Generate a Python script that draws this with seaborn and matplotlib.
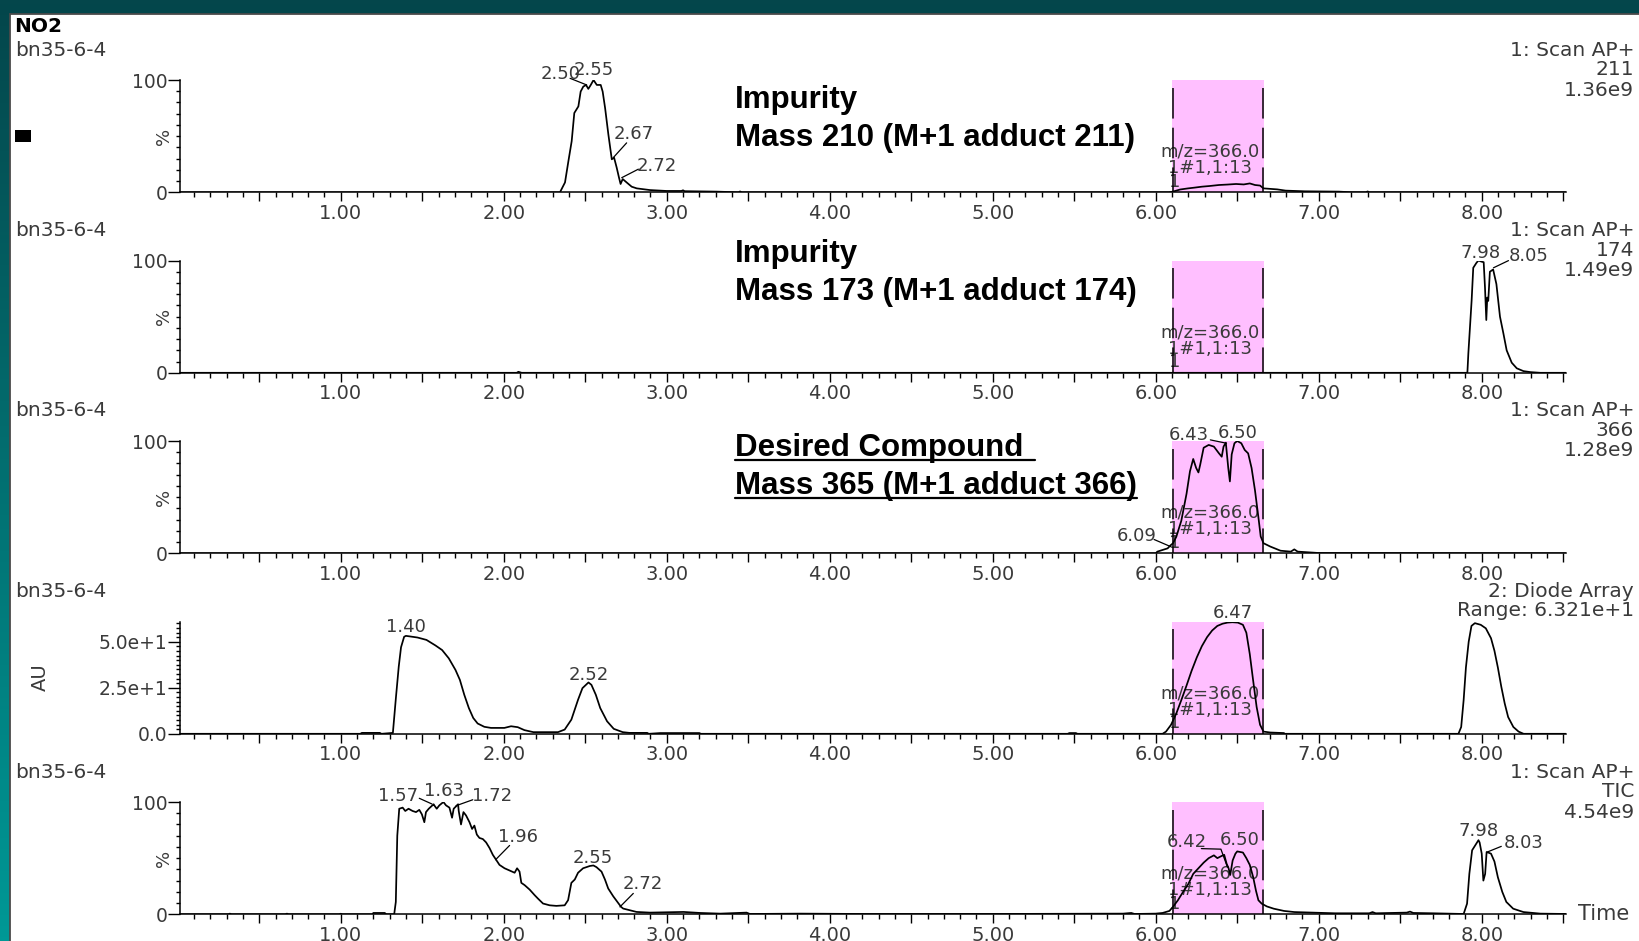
import matplotlib
matplotlib.use("Agg")
import numpy as np
import pandas as pd
import matplotlib.pyplot as plt
import seaborn as sns
from matplotlib.patches import Rectangle
from matplotlib.lines import Line2D
from matplotlib.ticker import MultipleLocator, FixedLocator, FuncFormatter
from matplotlib.transforms import blended_transform_factory

# ---------------------------------------------------------------- data
report_title = "NO2"
sample_id = "bn35-6-4"

channel_function = ["1: Scan AP+", "1: Scan AP+", "1: Scan AP+", "2: Diode Array", "1: Scan AP+"]
channel_trace = ["211", "174", "366", "Range: 6.321e+1", "TIC"]
channel_scale = ["1.36e9", "1.49e9", "1.28e9", "", "4.54e9"]

compound_notes = [
    ("Impurity", "Mass 210 (M+1 adduct 211)"),
    ("Impurity", "Mass 173 (M+1 adduct 174)"),
    ("Desired Compound", "Mass 365 (M+1 adduct 366)"),
]

window_label = ["m/z=366.0", "1#1,1:13", "1"]
window_start, window_end = 6.10, 6.665
window_marks = [6.105, 6.66]

# m/z 211 ion trace, % of 1.36e9
m211_time = [0.01, 2.345, 2.376, 2.397, 2.417, 2.433, 2.458, 2.472, 2.488, 2.505,
             2.519, 2.534, 2.551, 2.571, 2.595, 2.607, 2.622, 2.642, 2.663, 2.677,
             2.693, 2.707, 2.717, 2.730, 2.754, 2.785, 2.816, 2.897, 2.999, 3.09,
             3.10, 3.11, 3.307, 3.44, 3.45, 3.46, 6.08, 6.105, 6.15, 6.199,
             6.24, 6.283, 6.33, 6.388, 6.44, 6.493, 6.54, 6.577, 6.609, 6.64,
             6.661, 6.745, 6.797, 6.913, 7.123, 7.207, 7.29, 7.30, 7.31, 8.52]
m211_pct = [0, 0, 8.8, 27.9, 45.6, 70.6, 76.5, 89.7, 94.1, 95.6,
            92.1, 95.6, 100, 95.6, 95.6, 89.7, 75.0, 51.5, 29.4, 30.9,
            22.0, 13.2, 7.4, 11.8, 8.8, 5.0, 3.5, 2.0, 1.2, 1.2,
            1.8, 1.0, 0.6, 0.0, 0.8, 0.0, 0.0, 0.6, 2.5, 3.5,
            4.2, 5.0, 5.6, 6.5, 6.9, 7.4, 7.0, 7.9, 6.5, 6.0,
            3.5, 2.6, 1.5, 0.9, 0.6, 0.0, 0.0, 0.8, 0.0, 0.0]

# m/z 174 ion trace, % of 1.49e9
m174_time = [0.01, 2.08, 2.09, 2.11, 7.905, 7.912, 7.918, 7.928, 7.938, 7.948,
             7.968, 7.98, 7.998, 8.012, 8.020, 8.028, 8.034, 8.040, 8.050, 8.070,
             8.090, 8.112, 8.133, 8.153, 8.184, 8.215, 8.256, 8.30, 8.36, 8.52]
m174_pct = [0, 0, 0.9, 0, 0, 0, 17.5, 40.9, 64.3, 93.5,
            98.0, 100, 99.0, 98.5, 76.0, 47.0, 67.0, 64.0, 90.0, 92.0,
            79.0, 50.0, 35.0, 20.0, 9.0, 4.0, 1.5, 0.6, 0, 0]

# m/z 366 ion trace, % of 1.28e9
m366_time = [0.01, 6.00, 6.01, 6.073, 6.09, 6.105, 6.126, 6.157, 6.189, 6.21,
             6.23, 6.248, 6.262, 6.273, 6.294, 6.325, 6.357, 6.388, 6.405, 6.416,
             6.43, 6.445, 6.455, 6.466, 6.483, 6.50, 6.525, 6.546, 6.567, 6.588,
             6.609, 6.63, 6.644, 6.661, 6.703, 6.766, 6.829, 6.85, 6.871, 6.997,
             8.52]
m366_pct = [0, 0, 1.5, 4.4, 7.0, 8.8, 14.6, 29.0, 53.0, 73.0,
            84.0, 76.0, 72.0, 79.0, 94.0, 96.5, 95.0, 89.0, 86.0, 95.0,
            98.5, 76.0, 64.0, 88.0, 98.0, 100, 98.0, 92.0, 89.0, 76.0,
            56.0, 32.0, 15.0, 9.0, 6.0, 2.3, 1.5, 3.5, 1.5, 0.3,
            0]

# diode array trace, AU
dad_time = [0.01, 1.12, 1.13, 1.24, 1.25, 1.32, 1.339, 1.356, 1.37, 1.389,
            1.40, 1.416, 1.471, 1.526, 1.581, 1.622, 1.663, 1.704, 1.731, 1.758,
            1.786, 1.813, 1.84, 1.881, 1.922, 2.004, 2.045, 2.086, 2.127, 2.182,
            2.333, 2.374, 2.415, 2.456, 2.483, 2.52, 2.538, 2.565, 2.592, 2.634,
            2.675, 2.73, 2.771, 2.88, 2.89, 2.96, 3.20, 3.21, 5.46, 5.47,
            5.51, 5.52, 6.042, 6.063, 6.094, 6.126, 6.157, 6.189, 6.22, 6.252,
            6.283, 6.315, 6.346, 6.378, 6.41, 6.44, 6.47, 6.504, 6.535, 6.556,
            6.577, 6.598, 6.619, 6.64, 6.661, 6.703, 6.787, 6.79, 7.857, 7.874,
            7.889, 7.903, 7.92, 7.937, 7.958, 7.994, 8.025, 8.057, 8.078, 8.099,
            8.12, 8.141, 8.162, 8.194, 8.226, 8.257, 8.52]
dad_au = [0, 0, 0.5, 0.5, 0, 0.5, 20.0, 36.5, 47.0, 52.7,
          53.2, 53.0, 52.3, 51.0, 48.0, 45.5, 41.0, 34.7, 29.3, 21.2,
          14.0, 8.6, 5.6, 3.8, 3.2, 3.2, 4.1, 3.6, 2.0, 0.9,
          0.9, 2.3, 7.7, 18.5, 24.8, 27.9, 26.6, 21.2, 14.0, 6.8,
          2.7, 0.9, 0.5, 0.5, 0, 0.4, 0.4, 0, 0, 0.4,
          0.4, 0, 0, 1.2, 4.9, 11.0, 18.3, 26.2, 34.2, 41.5,
          47.6, 52.5, 56.1, 58.6, 59.8, 60.4, 60.6, 60.4, 59.2, 54.9,
          43.3, 28.7, 14.6, 4.9, 1.2, 0.7, 0.4, 0, 0, 3.7,
          18.3, 36.0, 50.0, 58.6, 60.1, 59.2, 57.3, 51.9, 45.1, 36.0,
          25.6, 16.5, 9.1, 3.7, 1.2, 0, 0]
dad_full_scale = 61.0

# total ion current, % of 4.54e9
tic_time = [0.01, 0.31, 0.32, 0.33, 0.66, 0.67, 0.68, 0.99, 1.00, 1.01,
            1.195, 1.20, 1.27, 1.28, 1.328, 1.338, 1.347, 1.359, 1.38, 1.396,
            1.416, 1.441, 1.462, 1.482, 1.498, 1.513, 1.523, 1.54, 1.57, 1.574,
            1.589, 1.605, 1.63, 1.646, 1.667, 1.683, 1.693, 1.72, 1.724, 1.738,
            1.753, 1.769, 1.79, 1.806, 1.82, 1.835, 1.851, 1.872, 1.892, 1.913,
            1.933, 1.96, 1.974, 2.005, 2.036, 2.067, 2.082, 2.097, 2.108, 2.128,
            2.159, 2.19, 2.21, 2.241, 2.282, 2.323, 2.374, 2.395, 2.415, 2.436,
            2.456, 2.487, 2.528, 2.55, 2.569, 2.60, 2.621, 2.641, 2.672, 2.72,
            2.733, 2.774, 2.815, 2.897, 3.103, 3.205, 3.328, 3.49, 3.51, 3.82,
            4.20, 5.00, 5.65, 5.80, 5.85, 5.87, 6.00, 6.042, 6.084, 6.105,
            6.136, 6.168, 6.20, 6.23, 6.262, 6.294, 6.325, 6.357, 6.378, 6.405,
            6.42, 6.435, 6.447, 6.457, 6.472, 6.489, 6.50, 6.535, 6.556, 6.577,
            6.598, 6.615, 6.63, 6.65, 6.682, 6.724, 6.787, 6.85, 6.955, 7.10,
            7.31, 7.33, 7.35, 7.54, 7.56, 7.58, 7.70, 7.889, 7.91, 7.924,
            7.941, 7.958, 7.98, 7.987, 8.00, 8.01, 8.021, 8.03, 8.057, 8.078,
            8.099, 8.126, 8.151, 8.193, 8.256, 8.36, 8.52]
tic_pct = [0, 0, 0.6, 0, 0, 0.6, 0, 0, 0.5, 0,
           0, 1.2, 1.2, 0, 0, 11, 70, 94, 95, 92,
           94, 92, 91, 93, 89, 82, 91, 94, 98, 97,
           94, 97, 100, 97, 95, 86, 94, 98, 92, 80,
           91, 88, 82, 76, 79, 71, 68, 67, 64, 59,
           53, 47, 44, 41, 39, 37, 41, 38, 28, 26,
           22, 17, 14, 9.6, 8, 7.5, 8, 12.6, 28, 31,
           37, 41, 43, 43.5, 42, 38, 31, 23, 16, 6.6,
           5.1, 3.6, 2.1, 1.5, 2.1, 1.2, 0.6, 1.5, 0.3, 0.6,
           0.3, 0.3, 0.5, 0.6, 1.2, 0.3, 0.6, 1.2, 3, 6.5,
           12.5, 20, 27, 36, 41, 46, 50, 52.5, 50, 52,
           53, 45, 41, 35, 48, 54, 56, 55, 50, 44,
           33, 21, 12.5, 9.5, 7, 5, 3, 2, 1.5, 0.9,
           0.9, 2.0, 0.9, 1.5, 2.4, 1.2, 0.9, 0.3, 9.5, 36,
           57, 61, 66, 64, 54, 30, 36, 55.5, 54, 47,
           33, 20, 11, 5, 2, 0.6, 0.3]

# retention times printed over the peaks
m211_peaks = ["2.50", "2.55", "2.67", "2.72"]
m174_peaks = ["7.98", "8.05"]
m366_peaks = ["6.43", "6.50", "6.09"]
dad_peaks = ["1.40", "2.52", "6.47"]
tic_peaks = ["1.57", "1.63", "1.72", "1.96", "2.55", "2.72", "6.42", "6.50", "7.98", "8.03"]

# ---------------------------------------------------------------- layout
W, H = 1639, 941
sns.set_theme(style="ticks")
plt.rcParams["font.family"] = ["DejaVu Sans"]
plt.rcParams["axes.unicode_minus"] = False

INK = "#3a3a3a"
PINK = "#FFBFFF"

fig = plt.figure(figsize=(W / 100, H / 100), dpi=100)


def fx(px):
    return px / W


def fy(py):
    return 1 - py / H


# teal backdrop and white page
bg = fig.add_axes([0, 0, 1, 1], zorder=-10)
bg.set_axis_off()
c_top = np.array([4, 70, 75]) / 255
c_bot = np.array([0, 152, 150]) / 255
ramp = np.linspace(0, 1, 256)[:, None, None]
grad = np.repeat(c_top + (c_bot - c_top) * ramp, 2, axis=1)
bg.imshow(grad, extent=[0, 1, 0, 1], aspect="auto", origin="upper")
bg.set_xlim(0, 1)
bg.set_ylim(0, 1)
bg.add_patch(Rectangle((fx(10), -0.1), 1.2, fy(14) + 0.1, facecolor="white",
                       edgecolor="#4a4a4a", lw=1.3))
bg.add_patch(Rectangle((fx(15), fy(142)), 16 / W, 12 / H, facecolor="black", edgecolor="none"))

fig.text(fx(14), fy(27), report_title, ha="left", va="center", fontsize=14.5,
         fontweight="bold", color="black")

XMIN, XMAX = 0.014, 8.517
zero_px = [192.3 + 180.5 * i for i in range(5)]
panel_h = 112.3
ax_left, ax_w = 180, 1386

traces = [
    (m211_time, m211_pct, 100.0),
    (m174_time, m174_pct, 100.0),
    (m366_time, m366_pct, 100.0),
    (dad_time, dad_au, dad_full_scale),
    (tic_time, tic_pct, 100.0),
]

# label anchor (time, height) and optional leader line for each peak label
label_layout = [
    [(2.35, 105, [(2.407, 101.5), (2.509, 95.6)]), (2.551, 108.5, None),
     (2.795, 51.5, [(2.754, 44), (2.673, 31)]), (2.938, 23.5, [(2.826, 20.6), (2.724, 13)])],
    [(7.99, 106.6, None), (8.286, 103.7, [(8.164, 99.9), (8.072, 93.5)])],
    [(6.204, 105, [(6.335, 101), (6.434, 98)]), (6.504, 106.7, None),
     (5.885, 15.2, [(5.99, 12.3), (6.094, 5.8)])],
    [(1.403, 58.1, None), (2.52, 32.0, None), (6.472, 65.5, None)],
    [(1.349, 105.7, [(1.482, 103.3), (1.56, 98.2)]), (1.636, 110, None),
     (1.929, 105, [(1.81, 102), (1.708, 96.7)]), (2.087, 69, [(2.036, 61.3), (1.95, 48.6)]),
     (2.549, 50.2, None), (2.852, 27, [(2.795, 18.6), (2.713, 6.6)]),
     (6.189, 64.4, [(6.28, 58.5), (6.40, 58), (6.44, 42)]), (6.514, 65.9, None),
     (7.983, 74.2, None), (8.256, 63.5, [(8.12, 60.5), (8.035, 55.5)])],
]
peak_texts = [m211_peaks, m174_peaks, m366_peaks, dad_peaks, tic_peaks]

axes = []
for i, (t, v, ymax) in enumerate(traces):
    ax = fig.add_axes([fx(ax_left), fy(zero_px[i]), ax_w / W, panel_h / H])
    ax.set_facecolor("none")
    axes.append(ax)

    # highlighted retention window
    ax.axvspan(window_start, window_end, ymin=0, ymax=1, facecolor=PINK,
               edgecolor="none", zorder=1)
    xa = blended_transform_factory(ax.transData, ax.transAxes)
    ax.text(6.33, 0.36, window_label[0], transform=xa, ha="center", va="center",
            fontsize=13, color=INK, zorder=2)
    ax.text(6.33, 0.215, window_label[1], transform=xa, ha="center", va="center",
            fontsize=13, color=INK, zorder=2)
    ax.text(6.084, 0.094, window_label[2], transform=xa, ha="left", va="center",
            fontsize=13, color=INK, zorder=2)
    for xm in window_marks:
        ax.plot([xm, xm], [0.933, 0.0], transform=xa, color="black", lw=1.1,
                linestyle=(0, (20, 6)), zorder=3)

    df = pd.DataFrame({"time": t, "signal": v})
    sns.lineplot(data=df, x="time", y="signal", ax=ax, color="black", linewidth=1.25,
                 estimator=None, sort=False, legend=False, zorder=4)

    ax.set_xlim(XMIN, XMAX)
    ax.set_ylim(0, ymax)
    ax.set_xlabel("")
    ax.set_ylabel("")
    for s in ("top", "right"):
        ax.spines[s].set_visible(False)
    for s in ("left", "bottom"):
        ax.spines[s].set_color("black")
        ax.spines[s].set_linewidth(1.1)
        ax.spines[s].set_zorder(5)

    ax.xaxis.set_major_locator(MultipleLocator(0.5))
    ax.xaxis.set_minor_locator(MultipleLocator(0.1))
    ax.xaxis.set_major_formatter(FuncFormatter(
        lambda val, pos: f"{val:.2f}" if (abs(val - round(val)) < 1e-6 and val > 0.5) else ""))
    ax.tick_params(axis="x", which="major", direction="out", length=6.3, width=1.0,
                   color="black", pad=2, labelsize=14, labelcolor=INK)
    ax.tick_params(axis="x", which="minor", direction="out", length=3.6, width=1.0,
                   color="black")

    if i == 3:
        ax.yaxis.set_major_locator(FixedLocator([0, 25, 50]))
        ax.yaxis.set_major_formatter(FuncFormatter(
            lambda val, pos: {0: "0.0", 25: "2.5e+1", 50: "5.0e+1"}.get(int(round(val)), "")))
        ax.yaxis.set_minor_locator(MultipleLocator(2.5))
    else:
        ax.yaxis.set_major_locator(FixedLocator([0, 100]))
        ax.yaxis.set_major_formatter(FuncFormatter(lambda val, pos: f"{val:.0f}"))
        ax.yaxis.set_minor_locator(MultipleLocator(10))
        ax.text(-16 / ax_w, 50, "%", transform=ax.get_yaxis_transform(), rotation=90,
                ha="center", va="center", fontsize=13, color=INK)
    ax.tick_params(axis="y", which="major", direction="out", length=8.4, width=1.0,
                   color="black", pad=0.5, labelsize=13.5, labelcolor=INK)
    ax.tick_params(axis="y", which="minor", direction="out", length=3.2, width=1.0,
                   color="black")

    # peak retention-time labels
    for txt, (lx, ly, leader) in zip(peak_texts[i], label_layout[i]):
        ax.text(lx, ly, txt, ha="center", va="center", fontsize=13, color=INK,
                zorder=6, clip_on=False)
        if leader:
            xs, ys = zip(*leader)
            ax.plot(xs, ys, color="black", lw=0.9, zorder=6, clip_on=False)

    # left header and channel description
    base = 50 + 180.5 * i
    fig.text(fx(15), fy(base), sample_id, ha="left", va="center", fontsize=14.5, color=INK)
    lines = [s for s in (channel_function[i], channel_trace[i], channel_scale[i]) if s]
    offsets = [0, 19.5, 40]
    for s, off in zip(lines, offsets):
        fig.text(fx(1634), fy(base + off), s, ha="right", va="center",
                 fontsize=14.5, color=INK)

fig.text(fx(40), fy(677), "AU", rotation=90, ha="center", va="center", fontsize=14, color=INK)
axes[4].text((1578 - ax_left) / ax_w, 0, "Time", transform=axes[4].get_yaxis_transform(),
             ha="left", va="center", fontsize=15, color=INK)

# bold compound notes
note_baselines = [(107.7, 146.0), (262.4, 300.0), (455.7, 494.0)]
note_font = dict(family=["Liberation Sans", "DejaVu Sans"], fontsize=22.5,
                 fontweight="bold", color="black")
underlined = []
for k, ((l1, l2), (b1, b2)) in enumerate(zip(compound_notes, note_baselines)):
    t1 = fig.text(fx(735), fy(b1), l1, ha="left", va="baseline", **note_font)
    t2 = fig.text(fx(735), fy(b2), l2, ha="left", va="baseline", **note_font)
    if k == 2:
        underlined = [(t1, b1, 12), (t2, b2, 0)]

fig.canvas.draw()
renderer = fig.canvas.get_renderer()
for txt, baseline, extra in underlined:
    bb = txt.get_window_extent(renderer=renderer)
    yline = fy(baseline + 4)
    fig.add_artist(Line2D([bb.x0 / W, (bb.x1 + extra) / W], [yline, yline],
                          transform=fig.transFigure, color="black", lw=1.6))

fig.savefig("out.png", dpi=100)
